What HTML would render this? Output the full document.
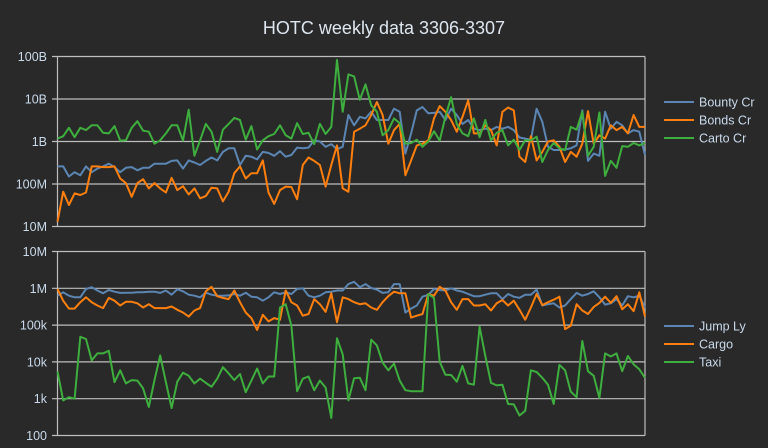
<!DOCTYPE html>
<html><head><meta charset="utf-8"><style>
html,body{margin:0;padding:0;background:#292929;}
svg{display:block;font-family:"Liberation Sans",sans-serif;}
</style></head><body>
<svg id="chart" width="768" height="448" viewBox="0 0 768 448" xmlns="http://www.w3.org/2000/svg">
<rect width="768" height="448" fill="#292929"/>
<text x="384" y="34" text-anchor="middle" font-size="18" fill="#dde6ef">HOTC weekly data 3306-3307</text>
<g id="top"></g><g id="bot"></g>
</svg>
<script>
const weeks = Array.from({length:104},(_, i)=>i);
const topTicks = ["100B","10B","1B","100M","10M"];
const botTicks = ["10M","1M","100k","10k","1k","100"];
const topNames = ["Bounty Cr","Bonds Cr","Carto Cr"];
const botNames = ["Jump Ly","Cargo","Taxi"];
const bounty = [2.6e8,2.6e8,1.5e8,1.9e8,1.6e8,2.6e8,1.9e8,2.3e8,2.6e8,3.0e8,2.5e8,1.9e8,2.4e8,2.5e8,2.1e8,2.4e8,2.4e8,3.0e8,3.0e8,3.0e8,3.5e8,3.6e8,2.3e8,3.6e8,3.2e8,2.8e8,3.5e8,4.2e8,3.6e8,5.7e8,6.9e8,6.9e8,2.8e8,4.6e8,4.4e8,3.8e8,5.7e8,5.4e8,4.6e8,5.9e8,4.4e8,4.8e8,7.2e8,6.9e8,7.2e8,1.07e9,1.0e9,7.5e8,8.7e8,6.6e8,
7.5e8,4.2e9,2.4e9,3.8e9,3.5e9,5.0e9,3.2e9,3.2e9,3.2e9,5.9e9,5.0e9,5.2e8,1.55e9,5.4e9,6.5e9,4.6e9,4.7e9,5.0e9,3.2e9,5.9e9,4.2e9,2.6e9,3.2e9,2.0e9,1.85e9,2.0e9,1.85e9,2.2e9,2.0e9,2.2e9,1.85e9,1.24e9,1.17e9,1.1e9,5.9e9,2.9e9,7.5e8,6.3e8,6.3e8,6.5e8,6.9e8,8.1e8,5.4e9,3.5e8,5.2e8,4.6e8,5.0e9,2.0e9,2.9e9,2.4e9,1.55e9,1.85e9,1.7e9,4.8e8];
const bonds = [1.3e7,6.6e7,3.2e7,6.0e7,5.5e7,6.3e7,2.6e8,2.6e8,2.5e8,2.5e8,2.6e8,1.35e8,1.05e8,5.0e7,1.05e8,1.3e8,7.9e7,1.05e8,7.9e7,6.3e7,1.4e8,7.2e7,8.9e7,5.7e7,7.9e7,4.6e7,5.2e7,8.2e7,7.9e7,3.9e7,6.6e7,1.8e8,2.6e8,1.35e8,1.8e8,1.8e8,3.6e8,6.3e7,3.4e7,7.2e7,8.7e7,8.5e7,4.4e7,2.8e8,4.2e8,3.5e8,2.8e8,8.7e7,2.8e8,8.1e8,
7.9e7,6.6e7,1.7e9,2.0e9,2.4e9,4.2e9,8.5e9,4.2e9,8.9e8,1.85e9,2.6e9,1.6e8,3.6e8,8.1e8,8.9e8,1.07e9,3.5e9,6.8e9,5.0e9,3.2e9,1.7e9,3.8e9,9.3e9,1.55e9,1.55e9,2.4e9,1.85e9,8.1e8,5.0e9,6.3e9,5.4e9,4.4e8,3.3e8,1.33e9,3.6e8,5.7e8,1.0e9,1.07e9,7.5e8,3.3e8,5.7e8,4.4e8,8.9e8,5.2e9,8.9e8,1.4e9,1.17e9,2.4e9,1.85e9,2.2e9,1.55e9,4.2e9,2.2e9,2.2e9];
const carto = [1.17e9,1.33e9,2.1e9,1.26e9,2.1e9,1.85e9,2.4e9,2.4e9,1.6e9,1.55e9,2.3e9,1.05e9,1.07e9,2.1e9,3.0e9,1.8e9,1.7e9,8.9e8,1.07e9,1.55e9,2.4e9,2.4e9,1.05e9,5.6e9,4.6e8,1.07e9,2.6e9,1.7e9,5.7e8,1.9e9,2.6e9,3.6e9,3.2e9,1.1e9,2.3e9,6.5e8,1.07e9,1.33e9,1.5e9,2.4e9,1.4e9,1.17e9,2.7e9,1.5e9,1.6e9,8.7e8,2.6e9,1.5e9,2.2e9,8.3e10,
5.0e9,3.8e10,3.4e10,9.6e9,2.2e10,7.1e9,5.0e9,1.4e9,1.85e9,3.5e9,2.7e9,8.9e8,9.2e8,1.1e9,7.5e8,1.0e9,1.75e9,1.05e9,3.8e9,1.1e10,2.6e9,1.55e9,1.33e9,3.5e9,1.26e9,3.2e9,1.07e9,1.6e9,1.85e9,8.1e8,1.1e9,6.3e8,1.07e9,1.07e9,1.3e9,3.3e8,6.3e8,9.2e8,6.9e8,6.3e8,2.2e9,1.9e9,5.0e9,4.6e8,7.5e8,4.8e9,1.55e8,3.5e8,2.4e8,7.8e8,7.5e8,9.2e8,8.1e8,9.2e8];
const jump = [6.3e5,7.8e5,6.3e5,5.7e5,5.7e5,9.6e5,1.07e6,8.7e5,7.3e5,9.0e5,8.1e5,7.5e5,7.6e5,7.6e5,7.8e5,7.8e5,8.1e5,8.1e5,7.5e5,8.7e5,6.7e5,9.4e5,8.3e5,6.7e5,6.3e5,5.7e5,7.6e5,6.7e5,6.3e5,6.3e5,6.4e5,7.0e5,6.3e5,7.6e5,5.9e5,5.7e5,4.6e5,5.7e5,7.8e5,7.0e5,7.8e5,7.0e5,9.6e5,1.0e6,6.3e5,5.7e5,6.3e5,7.8e5,8.1e5,8.7e5,
8.7e5,1.3e6,1.5e6,1.07e6,1.3e6,1.02e6,9.2e5,7.5e5,7.8e5,1.3e6,1.3e6,2.2e5,2.8e5,3.4e5,5.9e5,6.7e5,9.6e5,9.0e5,8.7e5,1.0e6,8.7e5,8.1e5,7.0e5,6.1e5,6.1e5,6.7e5,7.3e5,7.3e5,5.1e5,7.0e5,5.9e5,5.5e5,6.7e5,6.7e5,9.2e5,3.4e5,3.7e5,3.9e5,3.0e5,3.4e5,5.1e5,7.5e5,6.3e5,7.0e5,8.3e5,5.7e5,3.6e5,3.9e5,5.1e5,3.4e5,6.1e5,5.7e5,6.3e5,3.0e5];
const cargo = [9.6e5,4.6e5,2.8e5,2.8e5,4.2e5,5.7e5,4.2e5,3.4e5,2.9e5,5.5e5,4.6e5,3.4e5,4.3e5,4.3e5,3.9e5,3.0e5,3.7e5,2.9e5,2.9e5,2.9e5,3.2e5,2.6e5,2.2e5,1.7e5,2.5e5,2.9e5,8.3e5,1.1e6,6.1e5,5.5e5,5.1e5,8.7e5,4.2e5,2.2e5,1.55e5,7.4e4,1.9e5,1.26e5,1.55e5,1.4e5,8.7e5,4.2e5,3.4e5,1.8e5,2.0e5,5.1e5,3.7e5,2.3e5,7.3e5,1.2e5,
5.7e5,5.1e5,4.2e5,3.7e5,3.9e5,3.0e5,2.6e5,4.2e5,6.1e5,8.1e5,7.3e5,7.3e5,1.6e5,1.8e5,2.0e5,7.0e5,6.3e5,1.1e6,8.7e5,4.2e5,2.6e5,5.1e5,5.1e5,3.4e5,3.4e5,3.7e5,2.5e5,3.9e5,4.8e5,3.4e5,4.6e5,2.6e5,1.4e5,3.0e5,7.0e5,3.5e5,4.2e5,4.9e5,5.9e5,7.8e4,9.6e4,3.7e5,2.5e5,2.0e5,3.1e5,4.0e5,5.9e5,4.0e5,6.1e5,2.7e5,3.7e5,2.4e5,7.8e5,1.7e5];
const taxi = [5.5e3,900,1.1e3,1.0e3,4.8e4,4.2e4,1.1e4,1.7e4,1.7e4,2.0e4,2.8e3,5.9e3,2.6e3,3.2e3,3.1e3,1.9e3,600,3.2e3,1.5e4,2.8e3,560,2.9e3,5.1e3,4.2e3,2.6e3,3.5e3,2.7e3,2.1e3,3.5e3,7.2e3,4.9e3,3.2e3,4.7e3,1.5e3,3.1e3,6.6e3,2.6e3,4.0e3,4.0e3,3.0e5,3.7e5,9.6e4,1.6e3,3.5e3,4.0e3,1.7e3,3.1e3,2.0e3,300,4.4e4,
1.6e4,900,3.6e3,3.7e3,1.7e3,4.0e4,2.8e4,9.5e3,5.9e3,9.0e3,3.1e3,1.7e3,1.6e3,1.6e3,1.6e3,7.0e5,5.4e5,1.0e4,4.5e3,4.4e3,2.9e3,7.8e3,2.6e3,2.4e3,9.0e4,1.45e4,2.7e3,2.3e3,2.4e3,720,700,350,470,5.9e3,5.3e3,3.7e3,2.4e3,720,8.3e3,5.9e3,1.55e3,1.1e3,3.7e4,5.6e3,4.2e3,1.05e3,1.7e4,1.4e4,1.7e4,5.6e3,1.45e4,8.6e3,6.3e3,3.7e3];

const NS="http://www.w3.org/2000/svg";
const colors=["#5b86b3","#ff7f0e","#3eae3e"];
const X0=57.5, X1=645, N=weeks.length;
function xScale(i){return X0+(X1-X0)*i/(N-1);}
function mk(tag,attrs,parent){const e=document.createElementNS(NS,tag);for(const k in attrs)e.setAttribute(k,attrs[k]);parent.appendChild(e);return e;}

function panel(g,ticks,maxExp,yTop,yBot,series,names,legY,prefix){
  const nDec=ticks.length-1;
  const yScale=v=>yTop+(maxExp-Math.log10(v))*(yBot-yTop)/nDec;
  ticks.forEach((t,k)=>{
    const y=yTop+k*(yBot-yTop)/nDec;
    const gl=mk('line',{x1:52,x2:X1,y1:y,y2:y,stroke:'#bdbdbd','stroke-width':1.2},g);
    
    
    const tl=mk('text',{x:47,y:y+4.5,'text-anchor':'end','font-size':12.5,fill:'#c9d9ea'},g);
    tl.textContent=t;
    
    
  });
  const ax=mk('line',{x1:X0,x2:X0,y1:yTop,y2:yBot,stroke:'#bdbdbd','stroke-width':1.2},g);
  
  
  const rb=mk('line',{x1:X1,x2:X1,y1:yTop,y2:yBot,stroke:'#bdbdbd','stroke-width':1.2},g);
  
  
  series.forEach((s,si)=>{
    const pts=s.map((v,i)=>xScale(weeks[i]).toFixed(1)+','+yScale(v).toFixed(1)).join(' ');
    const pl=mk('polyline',{points:pts,fill:'none',stroke:colors[si],'stroke-width':2,'stroke-linejoin':'round'},g);
    
    
    const ly=legY+si*18;
    const le=mk('line',{x1:664,x2:694,y1:ly,y2:ly,stroke:colors[si],'stroke-width':2},g);
    
    
    const lt=mk('text',{x:699,y:ly+4.5,'font-size':12.5,fill:'#c9d9ea'},g);
    lt.textContent=names[si];
    
    
  });
}
panel(document.getElementById('top'),topTicks,11,56.5,226.5,[bounty,bonds,carto],topNames,102,'top');
panel(document.getElementById('bot'),botTicks,7,251.5,435.5,[jump,cargo,taxi],botNames,326,'bottom');
</script>
</body></html>
